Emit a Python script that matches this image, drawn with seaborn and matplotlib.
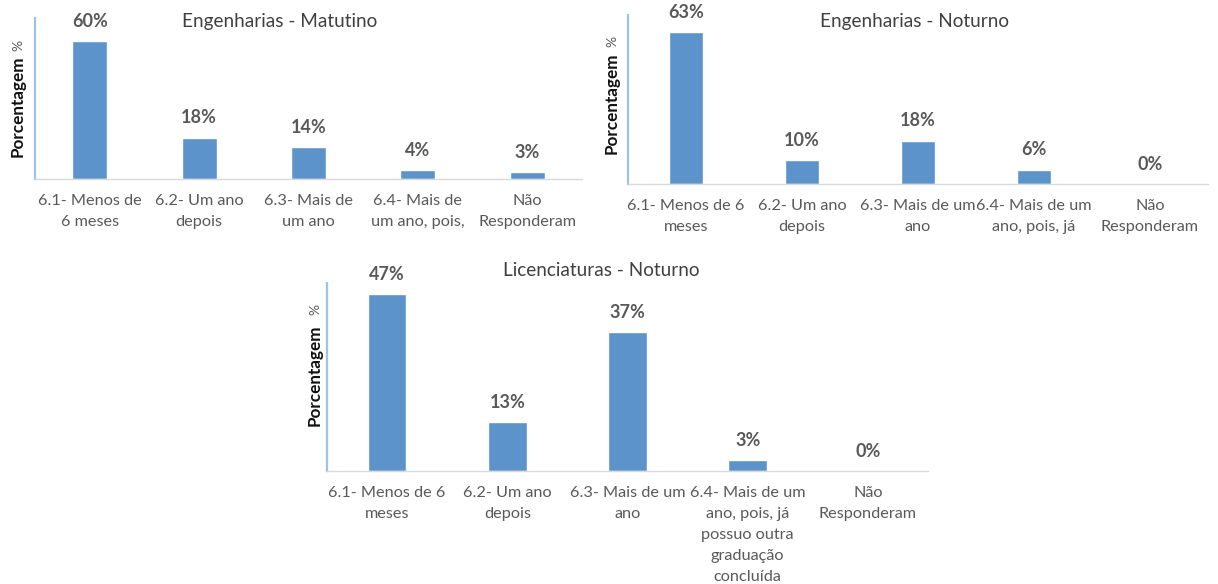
import matplotlib
matplotlib.use("Agg")
import matplotlib.pyplot as plt
import seaborn as sns
import pandas as pd

# Survey answers: time taken to start working after graduation (%)
labels_matutino = ["6.1- Menos de\n6 meses", "6.2- Um ano\ndepois", "6.3- Mais de\num ano",
                   "6.4- Mais de\num ano, pois,", "Não\nResponderam"]
values_matutino = [60, 18, 14, 4, 3]

labels_noturno = ["6.1- Menos de 6\nmeses", "6.2- Um ano\ndepois", "6.3- Mais de um\nano",
                  "6.4- Mais de um\nano, pois, já", "Não\nResponderam"]
values_noturno = [63, 10, 18, 6, 0]

labels_lic = ["6.1- Menos de 6\nmeses", "6.2- Um ano\ndepois", "6.3- Mais de um\nano",
              "6.4- Mais de um\nano, pois, já\npossuo outra\ngraduação\nconcluída", "Não\nResponderam"]
values_lic = [47, 13, 37, 3, 0]

titles = ["Engenharias - Matutino", "Engenharias - Noturno", "Licenciaturas - Noturno"]

sns.set_theme(style="white")
plt.rcParams["font.family"] = ["Lato", "DejaVu Sans"]

BAR = "#5B93CA"
GREY = "#595959"

W, H = 1218, 584
fig = plt.figure(figsize=(W / 100, H / 100), dpi=100)


def axes_px(x0, x1, ytop, ybot):
    return fig.add_axes([x0 / W, 1 - ybot / H, (x1 - x0) / W, (ybot - ytop) / H])


panels = [
    (axes_px(35, 582, 18, 179), labels_matutino, values_matutino, 70, 0.32),
    (axes_px(628, 1208, 15, 184), labels_noturno, values_noturno, 70, 0.30),
    (axes_px(327, 928, 283, 471), labels_lic, values_lic, 50, 0.32),
]

for ax, cats, vals, ymax, bw in panels:
    df = pd.DataFrame({"cat": cats, "val": vals})
    sns.barplot(data=df, x="cat", y="val", color=BAR, width=bw, saturation=1, ax=ax)
    ax.set_ylim(0, ymax)
    ax.set_xlim(-0.5, len(cats) - 0.5)
    ax.set_xlabel("")
    ax.set_ylabel("")
    ax.set_yticks([])
    ax.tick_params(axis="x", length=0, pad=11, labelsize=11.7, labelcolor=GREY)
    for t in ax.get_xticklabels():
        t.set_linespacing(1.62)
        t.set_horizontalalignment("center")
    for side in ("top", "right"):
        ax.spines[side].set_visible(False)
    ax.spines["left"].set_color("#9DC3E6")
    ax.spines["left"].set_linewidth(1.6)
    ax.spines["bottom"].set_color("#D9D9D9")
    ax.spines["bottom"].set_linewidth(1.0)
    ax.bar_label(ax.containers[0], fmt="%d%%", padding=8, fontsize=13,
                 fontweight="bold", color=GREY)

# Titles
fig.text(280 / W, 1 - 22 / H, titles[0], ha="center", va="center", fontsize=13.7, color="#404040")
fig.text(915 / W, 1 - 22 / H, titles[1], ha="center", va="center", fontsize=13.7, color="#404040")
fig.text(601 / W, 1 - 270 / H, titles[2], ha="center", va="center", fontsize=13.7, color="#404040")

# Axis titles: bold word plus a small percent sign above it
for x, ymid, ypct in [(18, 106, 45), (612, 103, 41), (315, 375, 309)]:
    fig.text(x / W, 1 - ymid / H, "Porcentagem", rotation=90, ha="center", va="center",
             fontsize=12.3, fontweight="bold", color="#111111")
    fig.text(x / W, 1 - ypct / H, "%", rotation=90, ha="center", va="center",
             fontsize=10, color=GREY)

fig.savefig("out.png", dpi=100, facecolor="white")
